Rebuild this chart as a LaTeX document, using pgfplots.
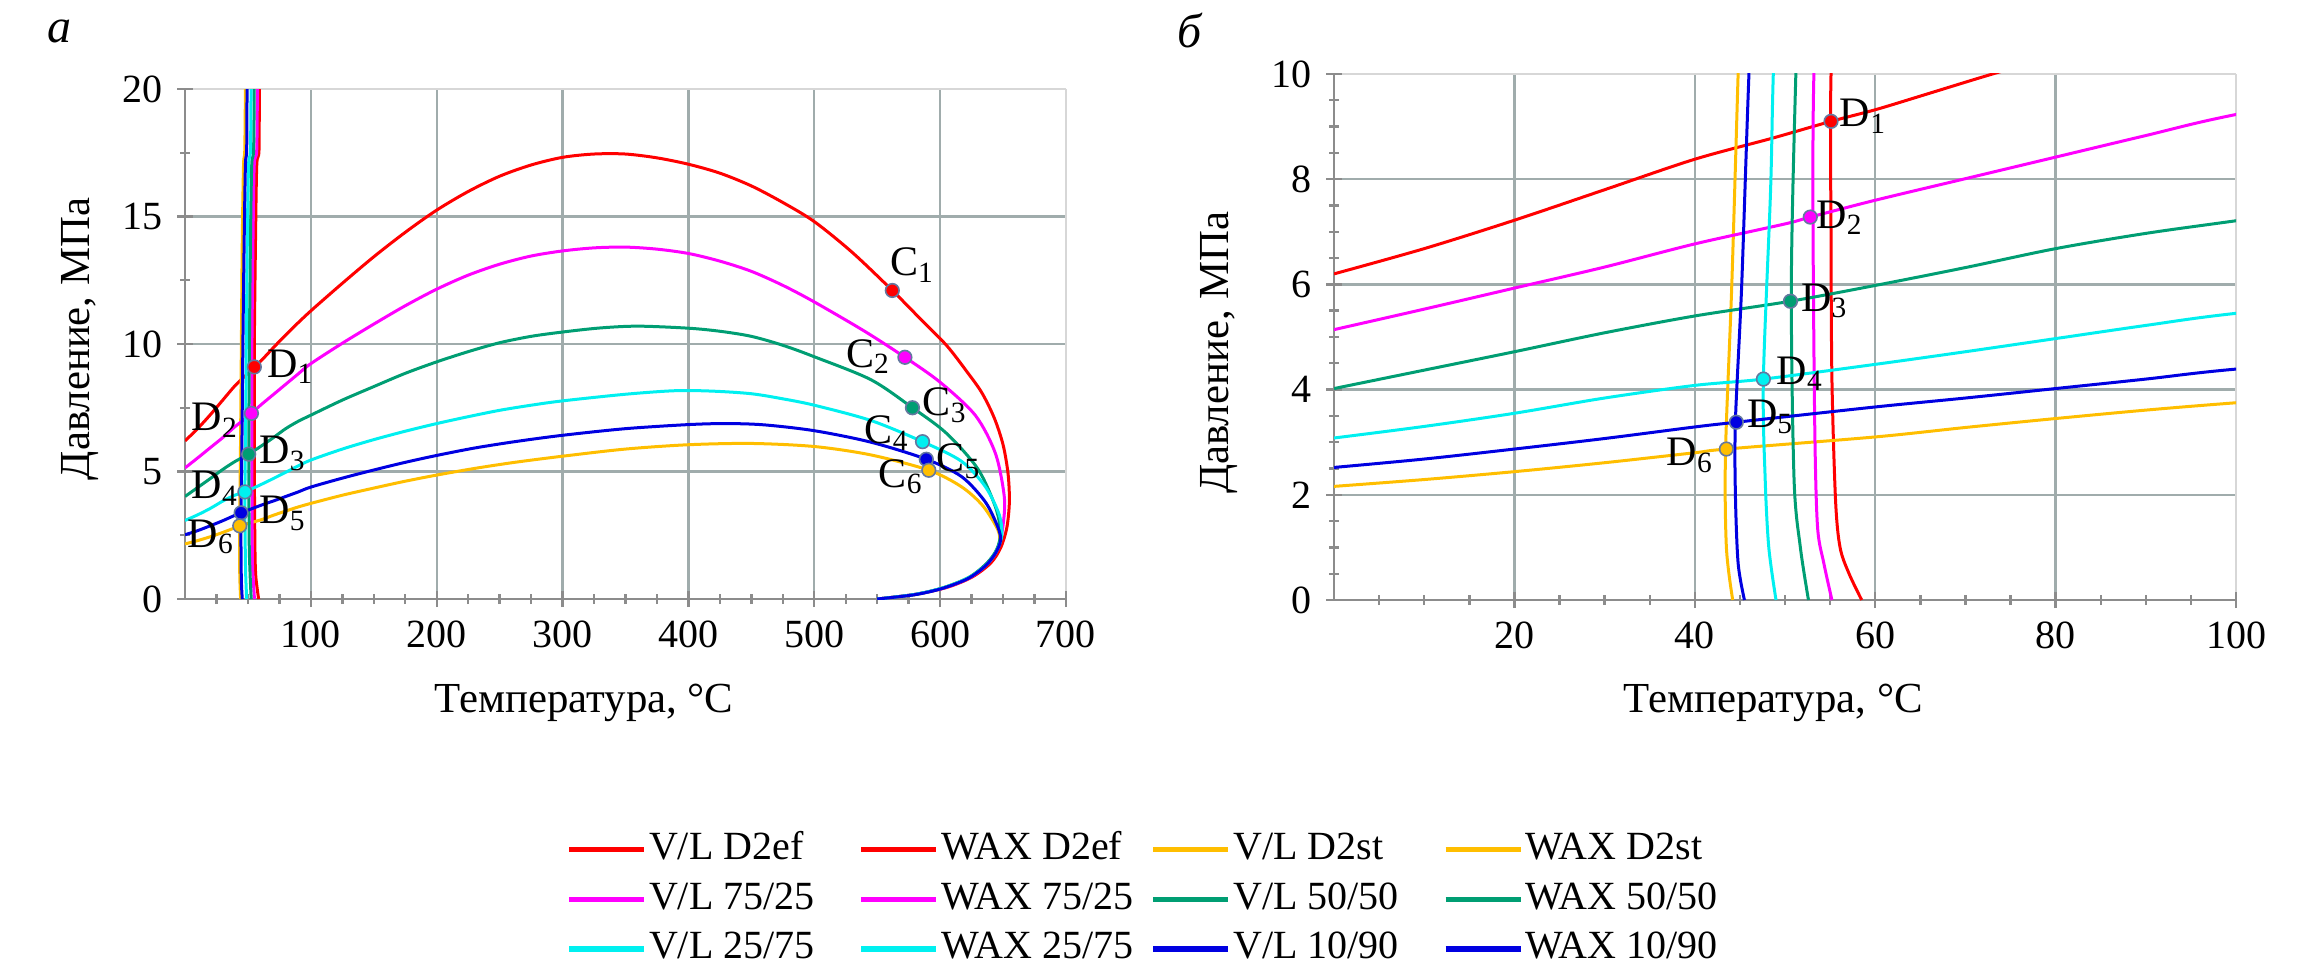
\documentclass[border=0pt]{standalone}
\usepackage{fontspec}
\setmainfont{Liberation Serif}
\usepackage{pgfplots}
\usepackage{pgfplotstable}
\pgfplotsset{compat=1.18}

\definecolor{cred}{RGB}{255,0,0}
\definecolor{cmag}{RGB}{255,0,255}
\definecolor{cteal}{RGB}{0,158,115}
\definecolor{ccyan}{RGB}{0,240,240}
\definecolor{cblue}{RGB}{0,0,225}
\definecolor{corange}{RGB}{255,190,0}
\definecolor{axisc}{RGB}{140,140,140}
\definecolor{gridc}{RGB}{160,172,172}
\definecolor{borderc}{RGB}{215,215,215}
\definecolor{markedge}{RGB}{100,120,160}

% V/L curves (temperature C, pressure MPa)
\pgfplotstableread{
T P
0 6.2
10 6.68
20 7.22
30 7.8
40 8.38
48.6 8.78
55.1 9.1
60 9.32
65 9.58
73 10.0
85 10.6
100 11.3
125 12.38
150 13.42
175 14.38
200 15.25
225 15.98
250 16.58
275 17.02
300 17.32
325 17.45
350 17.45
375 17.3
400 17.05
425 16.7
450 16.2
475 15.55
500 14.8
530 13.6
562 12.1
585 10.95
605 9.95
620 9.0
633 8.1
643 7.1
650 6.05
654 4.9
655 3.8
653 2.8
648 2.0
640 1.4
625 0.85
605 0.45
580 0.18
550 0
}\vlEF

\pgfplotstableread{
T P
0 5.14
10 5.53
20 5.93
30 6.33
40 6.77
50 7.15
52.8 7.28
60 7.6
70 8.01
80 8.42
90 8.83
100 9.23
125 10.03
150 10.78
175 11.5
200 12.15
225 12.7
250 13.13
275 13.45
300 13.65
325 13.77
350 13.8
375 13.72
400 13.55
425 13.25
450 12.85
475 12.3
500 11.65
540 10.5
572 9.48
600 8.5
628 7.2
644 5.7
651 4.0
650 2.9
646 2.0
638 1.4
624 0.85
604 0.45
580 0.18
550 0
}\vlB

\pgfplotstableread{
T P
0 4.02
10 4.37
20 4.72
30 5.08
40 5.40
50.6 5.68
60 5.98
70 6.32
80 6.68
90 6.97
100 7.21
125 7.8
150 8.33
175 8.85
200 9.3
225 9.7
250 10.05
275 10.3
300 10.47
330 10.63
360 10.7
400 10.62
425 10.5
450 10.3
475 9.95
500 9.5
545 8.6
578 7.5
605 6.5
630 5.1
644 3.6
648 2.6
645 1.95
637 1.4
623 0.85
603 0.45
580 0.18
550 0
}\vlC

\pgfplotstableread{
T P
0 3.08
10 3.30
20 3.55
30 3.84
40 4.08
47.6 4.2
60 4.48
70 4.72
80 4.97
90 5.22
100 5.45
125 5.88
150 6.25
175 6.58
200 6.88
225 7.15
250 7.4
275 7.6
300 7.77
350 8.03
390 8.17
420 8.15
450 8.05
475 7.85
500 7.6
545 7.0
586 6.17
617 5.4
636 4.4
647 3.3
649 2.5
645 1.9
637 1.35
623 0.85
603 0.45
580 0.18
550 0
}\vlD

\pgfplotstableread{
T P
0 2.52
10 2.68
20 2.87
30 3.07
40 3.29
44.6 3.38
60 3.67
70 3.84
80 4.02
90 4.20
100 4.39
125 4.74
150 5.06
175 5.36
200 5.63
230 5.92
262 6.17
300 6.42
350 6.68
400 6.84
430 6.88
460 6.83
500 6.6
545 6.15
589 5.48
617 4.8
636 3.8
646 2.8
648 2.3
644 1.8
636 1.3
622 0.8
602 0.42
580 0.17
550 0
}\vlE

\pgfplotstableread{
T P
0 2.16
10 2.29
20 2.44
30 2.61
40 2.80
43.5 2.87
60 3.10
70 3.28
80 3.45
90 3.61
100 3.75
125 4.07
150 4.35
175 4.62
200 4.86
230 5.12
262 5.36
300 5.6
350 5.88
400 6.05
450 6.1
500 5.98
545 5.65
591 5.05
617 4.4
634 3.65
646 2.7
647 2.2
643 1.75
635 1.28
621 0.8
601 0.42
580 0.17
550 0
}\vlST

% WAX curves
\pgfplotstableread{
T P
58.5 0
57.1 0.5
56.1 1.0
55.6 1.9
55.2 4.2
55.1 6.9
55.1 10
56 14
57 17
58.8 17.6
59 20
}\waxEF

\pgfplotstableread{
T P
55.2 0
54.3 0.7
53.6 1.4
53.3 3.25
53.1 7.3
53.2 10
54 14
55 17
57 17.6
57.5 20
}\waxB

\pgfplotstableread{
T P
52.6 0
51.7 1.0
51.0 2.3
50.7 6
51.2 10
52 14
53 17
54.5 17.6
55 20
}\waxC

\pgfplotstableread{
T P
49.0 0
48.2 1.0
47.8 2.3
47.6 4.2
48.4 7.8
48.7 10
49.5 14
50.5 17
52 17.6
52.5 20
}\waxD

\pgfplotstableread{
T P
45.5 0
44.8 0.7
44.5 2
44.5 3.4
45.2 6
46.0 10
47 14
48 17
49 17.6
49.3 20
}\waxE

\pgfplotstableread{
T P
44.2 0
43.5 1.0
43.4 2.8
44.1 6
44.8 10
45.5 14
46.5 17
47.5 17.6
48 20
}\waxST

\pgfplotsset{
  mystyle/.style={
    scale only axis,
    axis lines*=left,
    axis line style={draw=axisc, line width=0.6pt, -},
    grid=major,
    major grid style={draw=gridc, line width=0.6pt},
    tick style={draw=axisc, line width=0.6pt},
    tick align=center,
    major tick length=4pt,
    minor tick length=2.5pt,
    tick label style={font=\fontsize{10}{12}\selectfont},
    /pgf/number format/assume math mode=true,
    label style={font=\fontsize{10.7}{13}\selectfont},
    extra tick style={grid=major, major grid style={draw=borderc, line width=0.6pt}},
  },
  curve/.style={line width=0.75pt, smooth, tension=0.5},
  dot/.style={only marks, mark=*, mark size=1.7pt, mark options={fill=#1, draw=markedge, line width=0.4pt}, forget plot},
}
\tikzset{lab/.style={font=\fontsize{10.5}{12}\selectfont}}

\begin{document}
\begin{tikzpicture}
\useasboundingbox (0,0) rectangle (574.25pt,243.75pt);

\node[font=\fontsize{12}{14}\selectfont\itshape] at (15pt,236pt) {а};
\node[font=\fontsize{12}{14}\selectfont\itshape] at (297.5pt,236pt) {б};

% ---------- panel a ----------
\begin{axis}[
  mystyle,
  at={(46.25pt,94pt)}, anchor=south west,
  width=220.25pt, height=127.5pt,
  xmin=0, xmax=700, ymin=0, ymax=20,
  xtick={100,200,300,400,500,600},
  extra x ticks={700},
  ytick={0,5,10,15},
  extra y ticks={20},
  minor xtick={25,50,...,675},
  minor ytick={2.5,5,...,17.5},
  xlabel={Температура, °C},
  ylabel={Давление, МПа},
  xlabel style={at={(axis description cs:0.453,-0.204)}, anchor=center},
  ylabel style={at={(axis description cs:-0.119,0.51)}, anchor=center},
  legend style={at={(axis description cs:0.432,-0.447)}, anchor=north west,
    draw=none, inner sep=0pt, legend columns=4,
    font=\fontsize{10}{12}\selectfont,
    nodes={inner xsep=0.6pt, inner ysep=1pt, text height=7pt, text depth=2pt},
    row sep=1.4pt},
  legend cell align=left,
  legend image code/.code={\draw[#1, line width=1.3pt] (0cm,0cm) -- (18.75pt,0cm);},
]
\addplot[curve, cred] table {\vlEF};
\addlegendentry{\makebox[51.8pt][l]{V/L D2ef}}
\addplot[curve, cred] table {\waxEF};
\addlegendentry{\makebox[51.8pt][l]{WAX D2ef}}
\addplot[curve, corange] table {\vlST};
\addlegendentry{\makebox[51.8pt][l]{V/L D2st}}
\addplot[curve, corange] table {\waxST};
\addlegendentry{\makebox[51.8pt][l]{WAX D2st}}
\addplot[curve, cmag] table {\vlB};
\addlegendentry{\makebox[51.8pt][l]{V/L 75/25}}
\addplot[curve, cmag] table {\waxB};
\addlegendentry{\makebox[51.8pt][l]{WAX 75/25}}
\addplot[curve, cteal] table {\vlC};
\addlegendentry{\makebox[51.8pt][l]{V/L 50/50}}
\addplot[curve, cteal] table {\waxC};
\addlegendentry{\makebox[51.8pt][l]{WAX 50/50}}
\addplot[curve, ccyan] table {\vlD};
\addlegendentry{\makebox[51.8pt][l]{V/L 25/75}}
\addplot[curve, ccyan] table {\waxD};
\addlegendentry{\makebox[51.8pt][l]{WAX 25/75}}
\addplot[curve, cblue] table {\vlE};
\addlegendentry{\makebox[51.8pt][l]{V/L 10/90}}
\addplot[curve, cblue] table {\waxE};
\addlegendentry{\makebox[51.8pt][l]{WAX 10/90}}

% D points
\addplot[dot=cred] coordinates {(55.1,9.1)};
\addplot[dot=cmag] coordinates {(52.8,7.28)};
\addplot[dot=cteal] coordinates {(50.6,5.68)};
\addplot[dot=ccyan] coordinates {(47.6,4.2)};
\addplot[dot=cblue] coordinates {(44.6,3.38)};
\addplot[dot=corange] coordinates {(43.5,2.87)};
% C points
\addplot[dot=cred] coordinates {(562,12.1)};
\addplot[dot=cmag] coordinates {(572,9.48)};
\addplot[dot=cteal] coordinates {(578,7.5)};
\addplot[dot=ccyan] coordinates {(586,6.17)};
\addplot[dot=cblue] coordinates {(589,5.48)};
\addplot[dot=corange] coordinates {(591,5.05)};

\node[lab] at (axis cs:578,13.1) {C\textsubscript{1}};
\node[lab] at (axis cs:543,9.5) {C\textsubscript{2}};
\node[lab] at (axis cs:604,7.6) {C\textsubscript{3}};
\node[lab] at (axis cs:558,6.5) {C\textsubscript{4}};
\node[lab] at (axis cs:615,5.4) {C\textsubscript{5}};
\node[lab] at (axis cs:569,4.8) {C\textsubscript{6}};
\node[lab] at (axis cs:84,9.1) {D\textsubscript{1}};
\node[lab] at (axis cs:24,7.0) {D\textsubscript{2}};
\node[lab] at (axis cs:78,5.7) {D\textsubscript{3}};
\node[lab] at (axis cs:24,4.35) {D\textsubscript{4}};
\node[lab] at (axis cs:78,3.36) {D\textsubscript{5}};
\node[lab] at (axis cs:21,2.43) {D\textsubscript{6}};
\end{axis}

% ---------- panel b ----------
\begin{axis}[
  mystyle,
  at={(333.5pt,93.75pt)}, anchor=south west,
  width=225.5pt, height=131.5pt,
  xmin=0, xmax=100, ymin=0, ymax=10,
  xtick={20,40,60,80},
  extra x ticks={100},
  ytick={0,2,4,6,8},
  extra y ticks={10},
  minor xtick={5,10,...,95},
  minor ytick={0.5,1,...,9.5},
  xlabel={Температура, °C},
  ylabel={Давление, МПа},
  xlabel style={at={(axis description cs:0.487,-0.196)}, anchor=center},
  ylabel style={at={(axis description cs:-0.128,0.47)}, anchor=center},
]
\addplot[curve, cred] table {\vlEF};
\addplot[curve, cred] table {\waxEF};
\addplot[curve, corange] table {\vlST};
\addplot[curve, corange] table {\waxST};
\addplot[curve, cmag] table {\vlB};
\addplot[curve, cmag] table {\waxB};
\addplot[curve, cteal] table {\vlC};
\addplot[curve, cteal] table {\waxC};
\addplot[curve, ccyan] table {\vlD};
\addplot[curve, ccyan] table {\waxD};
\addplot[curve, cblue] table {\vlE};
\addplot[curve, cblue] table {\waxE};

\addplot[dot=cred] coordinates {(55.1,9.1)};
\addplot[dot=cmag] coordinates {(52.8,7.28)};
\addplot[dot=cteal] coordinates {(50.6,5.68)};
\addplot[dot=ccyan] coordinates {(47.6,4.2)};
\addplot[dot=cblue] coordinates {(44.6,3.38)};
\addplot[dot=corange] coordinates {(43.5,2.87)};

\node[lab] at (axis cs:58.7,9.2) {D\textsubscript{1}};
\node[lab] at (axis cs:56.1,7.27) {D\textsubscript{2}};
\node[lab] at (axis cs:54.4,5.69) {D\textsubscript{3}};
\node[lab] at (axis cs:51.7,4.3) {D\textsubscript{4}};
\node[lab] at (axis cs:48.4,3.48) {D\textsubscript{5}};
\node[lab] at (axis cs:39.5,2.75) {D\textsubscript{6}};
\end{axis}
\end{tikzpicture}
\end{document}
